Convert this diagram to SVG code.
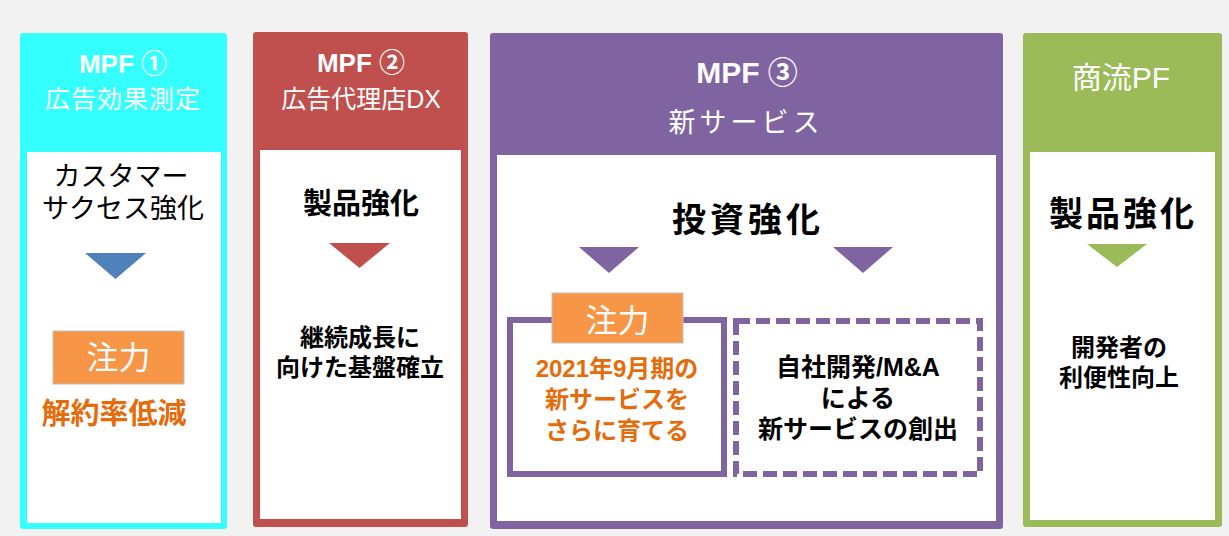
<svg xmlns="http://www.w3.org/2000/svg" width="1229" height="536" viewBox="0 0 1229 536">
<style>
text{font-family:"Liberation Sans","Noto Sans CJK JP",sans-serif;text-anchor:middle}
.hd{fill:#fff}
.b{font-weight:700}
.blk{fill:#000}
.org{fill:#e46c0a;font-weight:700}
.tag{fill:#f79646;stroke:#bfbfbf;stroke-width:1}
.tagt{fill:#fff;font-size:32px}
.in{fill:#fff}
</style>
<rect x="0" y="0" width="1229" height="536" fill="#f2f2f2"/>
<g id="mpf1">
<rect x="20" y="33" width="207" height="496" rx="3" fill="#33ffff"/>
<rect class="in" x="27" y="152" width="194" height="371"/>
<text class="hd"><tspan class="b" x="123" y="73" font-size="26">MPF ①</tspan><tspan x="123" y="108" font-size="25" letter-spacing="1">広告効果測定</tspan></text>
<text class="blk" font-size="27"><tspan x="121" y="186">カスタマー</tspan><tspan x="123" y="218">サクセス強化</tspan></text>
<polygon points="85,253 146,253 115.5,279" fill="#4f81bd"/>
<rect class="tag" x="53" y="331" width="131" height="53"/>
<text class="tagt" x="118.5" y="369">注力</text>
<text class="org" x="114" y="424" font-size="29">解約率低減</text>
</g>
<g id="mpf2">
<rect x="253" y="32" width="215" height="495" rx="3" fill="#c0504d"/>
<rect class="in" x="260" y="150" width="201" height="369"/>
<text class="hd"><tspan class="b" x="361" y="72" font-size="26">MPF ②</tspan><tspan x="361" y="108" font-size="25">広告代理店DX</tspan></text>
<text class="blk b" x="361" y="214" font-size="29">製品強化</text>
<polygon points="329,243 390,243 359.5,268" fill="#c0504d"/>
<text class="blk b" font-size="24"><tspan x="360" y="346">継続成長に</tspan><tspan x="360" y="376">向けた基盤確立</tspan></text>
</g>
<g id="mpf3">
<rect x="490" y="33" width="513" height="496" rx="3" fill="#8064a2"/>
<rect class="in" x="497" y="155" width="499" height="366"/>
<text class="hd"><tspan class="b" x="747" y="83" font-size="30">MPF ③</tspan><tspan x="746" y="132" font-size="27" letter-spacing="4">新サービス</tspan></text>
<text class="blk b" x="748" y="232" font-size="34" letter-spacing="4">投資強化</text>
<polygon points="579,247 639,247 609,273" fill="#8064a2"/>
<polygon points="833,247 893,247 863,273" fill="#8064a2"/>
</g>
<g id="focus-box">
<rect x="510" y="320" width="214" height="154" fill="#fff" stroke="#8064a2" stroke-width="6"/>
<rect class="tag" x="552" y="293" width="131" height="50"/>
<text class="tagt" x="617.5" y="332">注力</text>
<text class="org" font-size="24"><tspan x="617" y="377">2021年9月期の</tspan><tspan x="617" y="408">新サービスを</tspan><tspan x="617" y="439">さらに育てる</tspan></text>
</g>
<g id="new-service-box">
<rect x="736" y="321" width="244" height="153" fill="#fff" stroke="#8064a2" stroke-width="6" stroke-dasharray="14 6"/>
<text class="blk b" font-size="25"><tspan x="858" y="376">自社開発/M&amp;A</tspan><tspan x="858" y="407">による</tspan><tspan x="858" y="438">新サービスの創出</tspan></text>
</g>
<g id="commerce-pf">
<rect x="1023" y="33" width="199" height="494" rx="3" fill="#9bbb59"/>
<rect class="in" x="1030" y="152" width="185" height="368"/>
<text class="hd" x="1121" y="88" font-size="30">商流PF</text>
<text class="blk b" x="1123" y="226" font-size="34" letter-spacing="3">製品強化</text>
<polygon points="1087,244 1147,244 1117,267" fill="#9bbb59"/>
<text class="blk b" font-size="24"><tspan x="1119" y="356">開発者の</tspan><tspan x="1119" y="386">利便性向上</tspan></text>
</g>
</svg>
